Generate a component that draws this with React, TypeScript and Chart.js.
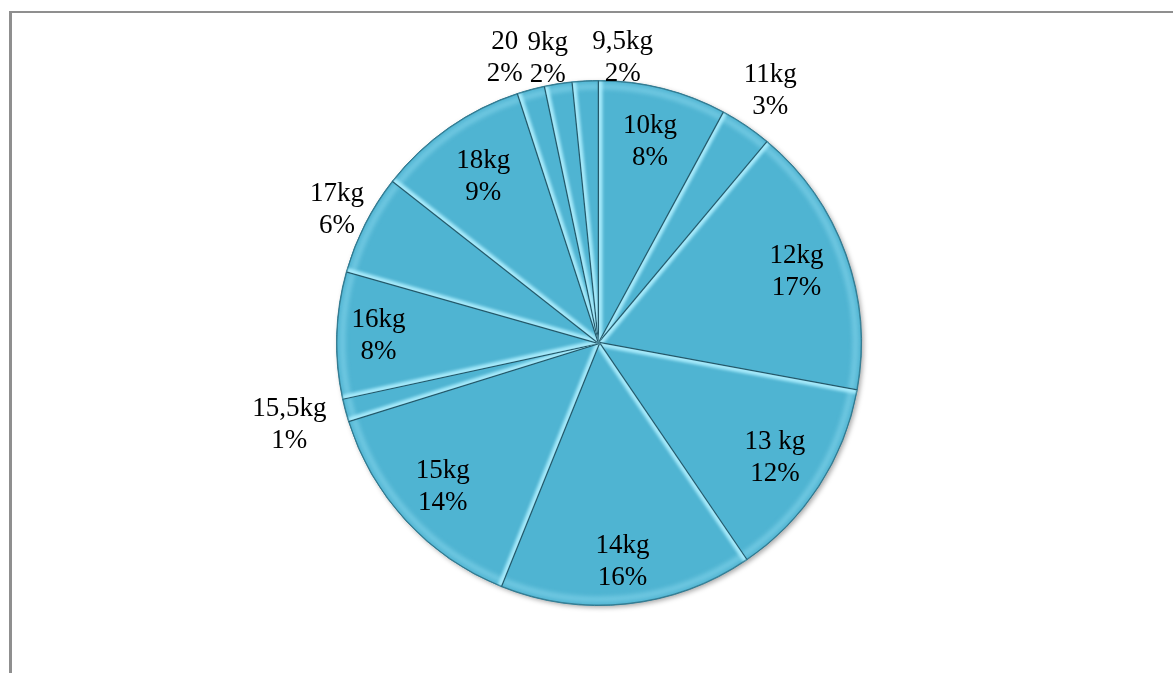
import React, { useEffect, useRef } from 'react';
import { Chart, registerables } from 'chart.js';

Chart.register(...registerables);

// Slices, clockwise from 12 o'clock
const categories = ['10kg', '11kg', '12kg', '13 kg', '14kg', '15kg', '15,5kg', '16kg', '17kg', '18kg', '20', '9kg', '9,5kg'];
const values = [7.9, 3.2, 16.8, 12.6, 15.6, 14.1, 1.4, 7.8, 6.2, 9.4, 1.7, 1.7, 1.6];
const percentLabels = ['8%', '3%', '17%', '12%', '16%', '14%', '1%', '8%', '6%', '9%', '2%', '2%', '2%'];

// label placement (fraction of radius along the slice mid-angle) and small collision nudges
const labelRadius = [0.79, 1.16, 0.8, 0.8, 0.84, 0.81, 1.22, 0.84, 1.12, 0.77, 1.14, 1.1, 1.09];
const labelNudge: [number, number][] = [
  [0, 0], [0, 0], [0, 0], [0, 0], [0, 0], [0, 0], [0, 0], [0, 0], [0, 0], [0, 0],
  [-17, 4], [-7, 1], [38, 1],
];

const FILL = '#4FB4D2';

export default function App() {
  const ref = useRef<HTMLCanvasElement>(null);

  useEffect(() => {
    if (!ref.current) return;

    const bevel = {
      id: 'bevel',
      beforeDatasetsDraw(chart: any) {
        const meta = chart.getDatasetMeta(0);
        const a = meta.data[0];
        if (!a) return;
        const { x, y, outerRadius } = a.getProps(['x', 'y', 'outerRadius'], true);
        const ctx = chart.ctx;
        ctx.save();
        ctx.shadowColor = 'rgba(0,0,0,0.35)';
        ctx.shadowBlur = 5;
        ctx.shadowOffsetX = 2;
        ctx.shadowOffsetY = 2;
        ctx.beginPath();
        ctx.arc(x, y, outerRadius, 0, Math.PI * 2);
        ctx.fillStyle = FILL;
        ctx.fill();
        ctx.restore();
      },
      afterDatasetsDraw(chart: any) {
        const meta = chart.getDatasetMeta(0);
        const ctx = chart.ctx;
        meta.data.forEach((arc: any) => {
          const { x, y, startAngle, endAngle, outerRadius } = arc.getProps(
            ['x', 'y', 'startAngle', 'endAngle', 'outerRadius'], true);
          const R = outerRadius;
          ctx.save();
          ctx.beginPath();
          ctx.moveTo(x, y);
          ctx.arc(x, y, R, startAngle, endAngle);
          ctx.closePath();
          ctx.clip();
          // outer rim light band
          ctx.filter = 'blur(2px)';
          ctx.beginPath();
          ctx.arc(x, y, R - 6, startAngle, endAngle);
          ctx.strokeStyle = 'rgba(150,225,245,0.45)';
          ctx.lineWidth = 6;
          ctx.stroke();
          // bright highlight on start edge
          ctx.filter = 'blur(1.5px)';
          ctx.beginPath();
          ctx.moveTo(x, y);
          ctx.lineTo(x + R * Math.cos(startAngle), y + R * Math.sin(startAngle));
          ctx.strokeStyle = 'rgba(175,240,255,0.9)';
          ctx.lineWidth = 7;
          ctx.stroke();
          ctx.filter = 'none';
          // dark line on end edge
          ctx.beginPath();
          ctx.moveTo(x, y);
          ctx.lineTo(x + R * Math.cos(endAngle), y + R * Math.sin(endAngle));
          ctx.strokeStyle = '#25596a';
          ctx.lineWidth = 2.5;
          ctx.stroke();
          // dark outer edge
          ctx.beginPath();
          ctx.arc(x, y, R, startAngle, endAngle);
          ctx.strokeStyle = 'rgba(40,105,125,0.6)';
          ctx.lineWidth = 2;
          ctx.stroke();
          ctx.restore();
        });
      },
    };

    const labelsPlugin = {
      id: 'sliceLabels',
      afterDraw(chart: any) {
        const meta = chart.getDatasetMeta(0);
        const ctx = chart.ctx;
        ctx.save();
        ctx.font = '27px "Liberation Serif", "Times New Roman", serif';
        ctx.fillStyle = '#000';
        ctx.textAlign = 'center';
        ctx.textBaseline = 'middle';
        meta.data.forEach((arc: any, i: number) => {
          const { x, y, startAngle, endAngle, outerRadius } = arc.getProps(
            ['x', 'y', 'startAngle', 'endAngle', 'outerRadius'], true);
          const mid = (startAngle + endAngle) / 2;
          const r = outerRadius * labelRadius[i];
          const cx = x + r * Math.cos(mid) + labelNudge[i][0];
          const cy = y + r * Math.sin(mid) + labelNudge[i][1];
          ctx.fillText(categories[i], cx, cy - 16);
          ctx.fillText(percentLabels[i], cx, cy + 16);
        });
        ctx.restore();
      },
    };

    const chart = new Chart(ref.current, {
      type: 'pie',
      data: {
        labels: categories,
        datasets: [{
          data: values,
          backgroundColor: FILL,
          borderColor: '#3a8197',
          borderWidth: 1,
        }],
      },
      options: {
        animation: false,
        responsive: false,
        events: [],
        layout: { padding: { left: 336, right: 311, top: 80, bottom: 67 } },
        plugins: {
          legend: { display: false },
          tooltip: { enabled: false },
        },
      },
      plugins: [bevel, labelsPlugin],
    });
    return () => chart.destroy();
  }, []);

  return (
    <div style={{ position: 'fixed', left: 0, top: 0, width: 1173, height: 673, background: '#fff', overflow: 'hidden' }}>
      <div style={{
        position: 'absolute', left: 9, top: 11, width: 2000, height: 2000,
        borderTop: '2px solid #8f8f8f', borderLeft: '3px solid #8f8f8f',
      }} />
      <canvas ref={ref} width={1173} height={673} style={{ position: 'absolute', left: 0, top: 0, width: 1173, height: 673 }} />
    </div>
  );
}
